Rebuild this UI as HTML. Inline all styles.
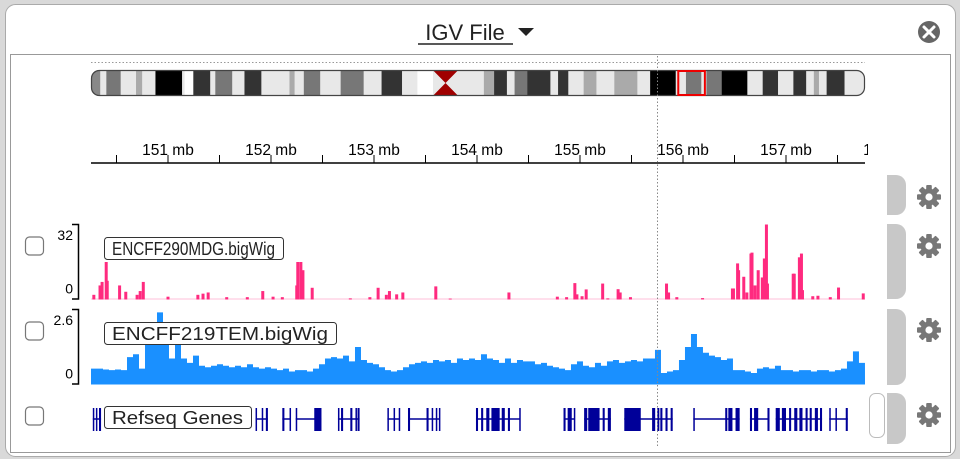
<!DOCTYPE html>
<html><head><meta charset="utf-8">
<style>
html,body{margin:0;padding:0;background:#fff;}
svg{display:block;font-family:"Liberation Sans",Arial,sans-serif;}
</style></head>
<body>
<svg id="igv" width="960" height="459" viewBox="0 0 960 459">
  <rect x="0" y="0" width="960" height="459" fill="#d9d9d9"/>
  <rect x="5.5" y="4.5" width="950" height="452" rx="10" fill="#fff" stroke="#aaa"/>
  <rect x="10.5" y="54.5" width="940" height="398" fill="#fff" stroke="#999"/>
  <text x="465" y="40" font-size="22" text-anchor="middle" fill="#222">IGV File</text>
  <line x1="418" y1="44" x2="513" y2="44" stroke="#222" stroke-width="1.5"/>
  <path d="M518 28 L534 28 L526 36 Z" fill="#222"/>
  <g>
    <circle cx="929" cy="32" r="11" fill="#666"/>
    <path d="M924 27 L934 37 M934 27 L924 37" stroke="#fff" stroke-width="3" stroke-linecap="round"/>
  </g>
  <line x1="91" y1="62.5" x2="865" y2="62.5" stroke="#999" stroke-dasharray="1.5,2"/>
  <g id="ideo"></g>
  <g id="ruler"></g>
  <g id="tracks"></g>
  <line x1="657.5" y1="56" x2="657.5" y2="446" stroke="#888" stroke-dasharray="1.5,2"/>
  <g id="side"></g>
</svg>
<script>
// ---- data ----
const viewStartMb = 150.2524;
const viewEndMb = 157.767;
const rulerTicksMb = [150.5,151,151.5,152,152.5,153,153.5,154,154.5,155,155.5,156,156.5,157,157.5];
const rulerLabels = ["151 mb","152 mb","153 mb","154 mb","155 mb","156 mb","157 mb","158 mb"];
const rulerLabelMb = [151,152,153,154,155,156,157,158];
// ideogram bands in chromosome units (22..1535)
const bandStart = [22,40,52,80,110,122,148,200,205,222,255,265,298,322,355,410,420,438,470,510,555,590,630,660,740,790,810,835,850,875,920,935,955,985,1010,1045,1090,1115,1165,1185,1215,1225,1255,1305,1335,1365,1395,1420,1435,1445,1460,1495];
const bandEnd   = [40,52,80,110,122,148,200,205,222,255,265,298,322,355,410,420,438,470,510,555,590,630,660,690,790,810,835,850,875,920,935,955,985,1010,1045,1090,1115,1165,1185,1215,1225,1255,1305,1335,1365,1395,1420,1435,1445,1460,1495,1535];
const bandShade = ["#888","#e8e8e8","#777","#e8e8e8","#aaa","#e8e8e8","#000","#e8e8e8","#fff","#333","#e8e8e8","#777","#e8e8e8","#333","#e8e8e8","#aaa","#e8e8e8","#777","#e8e8e8","#777","#e8e8e8","#333","#e8e8e8","#fff","#e8e8e8","#aaa","#333","#e8e8e8","#777","#333","#e8e8e8","#333","#e8e8e8","#aaa","#e8e8e8","#aaa","#e8e8e8","#000","#e8e8e8","#777","#e8e8e8","#777","#000","#e8e8e8","#333","#e8e8e8","#333","#e8e8e8","#aaa","#e8e8e8","#333","#e8e8e8"];
const chrStart = 22, chrEnd = 1535;
const centromere = [690,740];
const viewBox = [1170,1222];
// pink track ENCFF290MDG (max 32)
const pinkMax = 32;
const pinkPos = [150.28,150.34,150.36,150.40,150.41,150.53,150.59,150.70,150.73,150.76,151.00,151.29,151.34,151.39,151.57,151.77,151.92,152.02,152.11,152.25,152.26,152.29,152.31,152.40,152.77,152.96,153.04,153.12,153.15,153.22,153.28,153.60,153.74,154.31,154.78,154.87,154.95,154.97,155.02,155.06,155.22,155.27,155.37,155.39,155.49,155.84,155.86,155.94,156.19,156.48,156.49,156.53,156.54,156.59,156.62,156.66,156.67,156.70,156.73,156.77,156.79,156.81,156.82,157.07,157.08,157.13,157.15,157.16,157.26,157.31,157.43,157.51,157.75];
const pinkVal = [2,6,7.5,16,8,6,3.3,2,3.6,7.5,1.2,2,2.5,3,1,1,3.6,1.2,1,6,16,16,12.5,5,0.5,1,5,2,3.6,2.2,3,5.6,0.4,3,1.2,1,7,2.2,1.4,4.3,6.8,0.5,4.4,3,1,6.8,3,1,0.6,4.7,4.7,15.4,12.5,9.7,3,19.6,20,6,12.5,9.4,17.5,32,6.8,11,11,18,19.6,4,1.4,1.6,1,5.1,2.6];
// blue track ENCFF219TEM (max 2.6), bins of blueBinMb
const blueMax = 2.6;
const blueBinMb = 0.05825;
const blueVal = [.55,.55,.52,.5,.52,.5,.95,1.05,.55,1.8,1.9,2.5,2.0,.9,1.4,.9,.75,1.0,.65,.6,.65,.7,.65,.6,.65,.6,.7,.6,.55,.6,.55,.5,.55,.45,.5,.5,.45,.55,.7,.9,.95,.9,1.0,.8,1.3,.85,.75,.7,.6,.5,.45,.5,.6,.7,.75,.8,.75,.85,.8,.85,.75,.9,.85,.9,.85,1.05,.9,.85,.75,.9,.75,.85,.8,.8,.7,.75,.65,.6,.55,.5,.7,.8,.65,.6,.75,.65,.8,.85,.75,.8,.85,.8,.9,.9,1.2,.4,.45,.5,.85,1.3,1.75,1.3,1.1,1.0,.95,.85,.9,.5,.5,.45,.4,.55,.6,.55,.65,.5,.5,.45,.5,.5,.45,.5,.5,.45,.5,.55,.8,1.15,.75];
// genes
const geneStart = [150.27,151.85,152.11,152.24,152.65,153.13,153.33,153.99,154.84,155.04,155.43,155.73,156.10,156.65,156.90,157.42];
const geneEnd   = [150.35,151.97,152.19,152.49,152.86,153.25,153.64,154.42,154.95,155.30,155.73,155.90,156.55,156.84,157.35,157.60];
const exonStart = [150.27,150.30,150.33,151.85,151.91,151.95,152.11,152.18,152.24,152.42,152.65,152.68,152.77,152.82,152.84,153.13,153.19,153.24,153.33,153.51,153.56,153.60,153.63,153.99,154.04,154.09,154.14,154.24,154.30,154.41,154.84,154.88,154.94,155.04,155.08,155.22,155.27,155.43,155.70,155.75,155.78,155.83,155.88,156.10,156.41,156.44,156.51,156.65,156.69,156.82,156.90,156.96,157.03,157.08,157.13,157.19,157.23,157.28,157.33,157.42,157.48,157.58];
const exonEnd   = [150.28,150.31,150.35,151.86,151.92,151.97,152.13,152.19,152.25,152.49,152.66,152.70,152.79,152.83,152.86,153.14,153.20,153.25,153.35,153.53,153.57,153.61,153.64,154.01,154.06,154.12,154.22,154.27,154.32,154.42,154.86,154.92,154.95,155.07,155.19,155.24,155.30,155.59,155.73,155.77,155.80,155.85,155.90,156.11,156.43,156.48,156.55,156.67,156.73,156.84,156.94,157.00,157.05,157.11,157.16,157.21,157.25,157.31,157.35,157.43,157.49,157.60];

// ---- scales ----
const NS = "http://www.w3.org/2000/svg";
const X0 = 91, X1 = 865;
function xMb(mb){ return X0 + (mb - viewStartMb) / (viewEndMb - viewStartMb) * (X1 - X0); }
function xChr(u){ return X0 + (u - chrStart) / (chrEnd - chrStart) * (X1 - X0); }
function mk(tag, attrs, parent){ const e = document.createElementNS(NS, tag); for (const k in attrs) e.setAttribute(k, attrs[k]); parent.appendChild(e); return e; }

// ideogram
const ideo = document.getElementById('ideo');
const clip = mk('clipPath', {id:'ideoClip'}, ideo);
mk('rect', {x:91, y:70, width:774, height:26, rx:8}, clip);
const ig = mk('g', {'clip-path':'url(#ideoClip)'}, ideo);
mk('rect', {x:91, y:70, width:774, height:26, fill:'#e8e8e8'}, ig);
for (let i = 0; i < bandStart.length; i++) {
  const r = mk('rect', {x:xChr(bandStart[i]), y:70, width:xChr(bandEnd[i]) - xChr(bandStart[i]) + 0.3, height:26, fill:bandShade[i]}, ig);
  
  
}
{
  const a = xChr(centromere[0]), b = xChr(centromere[1]);
  const c = mk('path', {d:`M${a} 70 L${b} 70 L${a} 96 L${b} 96 Z`, fill:'#a00000'}, ig);
  
  
}
mk('rect', {x:91.5, y:70.5, width:773, height:25, rx:8, fill:'none', stroke:'#444', 'stroke-width':1.2}, ideo);
{
  const r = mk('rect', {x:xChr(viewBox[0]), y:71, width:xChr(viewBox[1]) - xChr(viewBox[0]), height:24, fill:'none', stroke:'#e00', 'stroke-width':2}, ideo);
  
  
}

// ruler
const ruler = document.getElementById('ruler');
{
  const cl = mk('clipPath', {id:'rulerClip'}, ruler);
  mk('rect', {x:80, y:130, width:788, height:40}, cl);
  ruler.setAttribute('clip-path', 'url(#rulerClip)');
}
mk('line', {x1:91, y1:163, x2:865, y2:163, stroke:'#000', 'stroke-width':1.5}, ruler);
rulerTicksMb.forEach(m => {
  const t = mk('line', {x1:xMb(m), y1:155, x2:xMb(m), y2:163, stroke:'#000'}, ruler);
  
  
});
rulerLabels.forEach((s, i) => {
  const t = mk('text', {x:xMb(rulerLabelMb[i]), y:155, 'font-size':15.5, 'text-anchor':'middle', fill:'#000'}, ruler);
  t.textContent = s;
  
  
});

// tracks
const tracks = document.getElementById('tracks');
function axis(g, top, bottom, maxLabel) {
  mk('path', {d:`M72 ${top+0.5} H78.5 V${bottom-0.5} H72`, fill:'none', stroke:'#000', 'stroke-width':1.5}, g);
  const a = mk('text', {x:73, y:top + 16, 'font-size':14, 'text-anchor':'end'}, g);
  a.textContent = maxLabel;
  
  
  const b = mk('text', {x:73, y:bottom - 6, 'font-size':14, 'text-anchor':'end'}, g);
  b.textContent = '0';
  
  
}
function checkbox(g, y) {
  const c = mk('rect', {x:25.5, y:y, width:18, height:18, rx:4, fill:'#fff', stroke:'#777', 'stroke-width':1.2}, g);
  
  
}
function label(g, x, y, w, txt) {
  const lg = mk('g', {}, g);
  
  
  mk('rect', {x:x + 0.5, y:y + 0.5, width:w, height:22, rx:3, fill:'#fff', stroke:'#333'}, lg);
  const t = mk('text', {x:x + 8, y:y + 18, 'font-size':18, fill:'#222', textLength:w - 16, lengthAdjust:'spacingAndGlyphs'}, lg);
  t.textContent = txt;
}

// pink
{
  const g = mk('g', {}, tracks);
  
  
  const top = 224, base = 299.5, H = 75;
  mk('line', {x1:91, y1:base - 0.5, x2:865, y2:base - 0.5, stroke:'#ff2a7f', 'stroke-opacity':0.3}, g);
  pinkPos.forEach((p, i) => {
    const h = pinkVal[i] / pinkMax * H;
    const r = mk('rect', {x:xMb(p) - 1.5, y:base - h, width:3, height:h, fill:'#ff2a7f'}, g);
    
    
  });
  checkbox(g, 237);
  axis(g, top, base, '32');
  label(g, 104, 237, 179, 'ENCFF290MDG.bigWig');
}
// blue
{
  const g = mk('g', {}, tracks);
  
  
  const top = 309, base = 384.5, H = 75;
  let d = `M${X0} ${base}`;
  blueVal.forEach((v, i) => {
    const a = xMb(viewStartMb + i * blueBinMb), b = Math.min(X1, xMb(viewStartMb + (i + 1) * blueBinMb));
    const y = base - v / blueMax * H;
    d += ` L${a} ${y} L${b} ${y}`;
  });
  d += ` L${X1} ${base} Z`;
  const p = mk('path', {d:d, fill:'#1a90ff'}, g);
  
  
  checkbox(g, 322);
  axis(g, top, base, '2.6');
  label(g, 104, 322, 232, 'ENCFF219TEM.bigWig');
}
// genes
{
  const g = mk('g', {}, tracks);
  
  
  const cy = 419;
  geneStart.forEach((s, i) => {
    const l = mk('line', {x1:xMb(s), y1:cy, x2:xMb(geneEnd[i]), y2:cy, stroke:'#000099', 'stroke-width':1.5}, g);
    
    
  });
  exonStart.forEach((s, i) => {
    const w = Math.max(1.5, xMb(exonEnd[i]) - xMb(s));
    const r = mk('rect', {x:xMb(s), y:408, width:w, height:23, fill:'#000099'}, g);
    
    
  });
  checkbox(g, 407);
  label(g, 104, 406, 147, 'Refseq Genes');
}

// side controls
const side = document.getElementById('side');
function tab(y, h) {
  const t = mk('path', {d:`M887 ${y} H896 A10 10 0 0 1 906 ${y+10} V${y+h-10} A10 10 0 0 1 896 ${y+h} H887 Z`, fill:'#c8c8c8'}, side);
  
  
}
function gear(cx, cy) {
  const g = mk('g', {transform:`translate(${cx},${cy})`}, side);
  
  
  for (let k = 0; k < 8; k++) mk('rect', {x:-2.8, y:-12, width:5.6, height:6, rx:1, fill:'#777', transform:`rotate(${k*45})`}, g);
  mk('circle', {r:8.5, fill:'#777'}, g);
  mk('circle', {r:3.6, fill:'#fff'}, g);
}
tab(175, 40); gear(929, 197);
tab(224, 75); gear(929, 246);
tab(309, 76); gear(929, 330);
tab(393, 51); gear(929, 415);
{
  const p = mk('rect', {x:869.5, y:393.5, width:15, height:44, rx:6, fill:'#fff', stroke:'#bbb'}, side);
  
  
}
</script>
</body></html>
